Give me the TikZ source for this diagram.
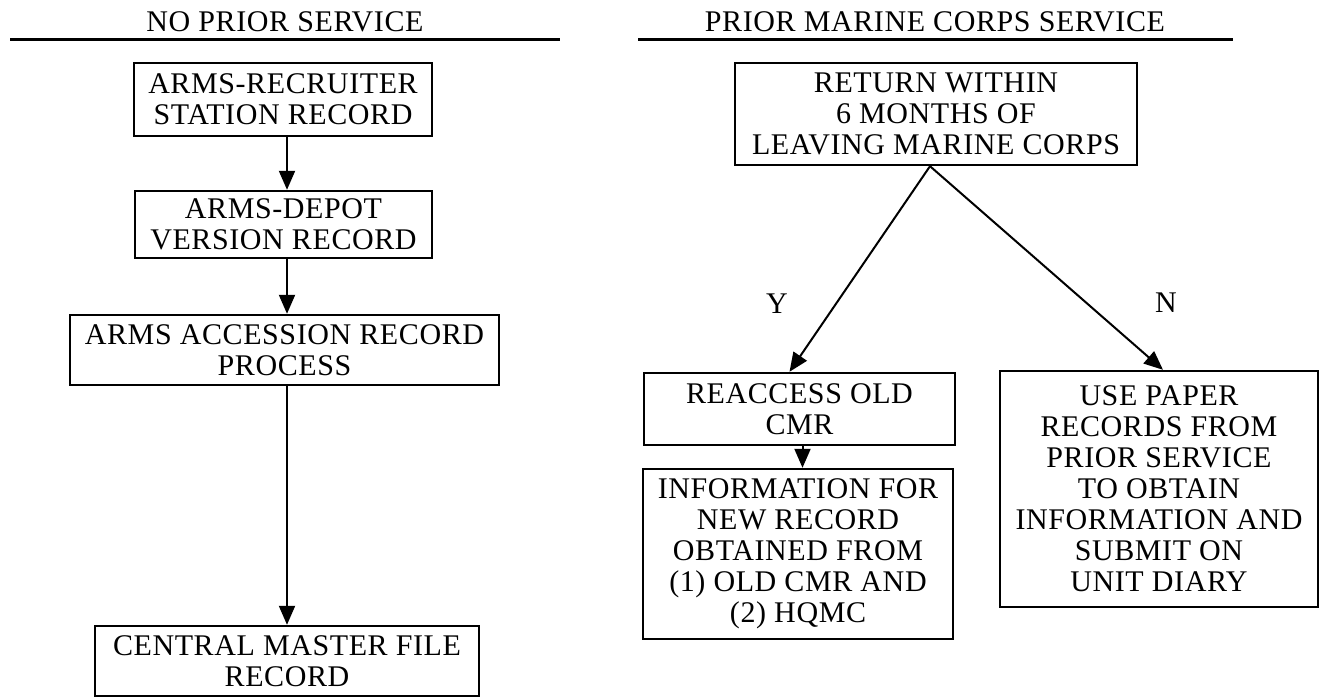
\documentclass[tikz,border=0pt]{standalone}
\usepackage{fontspec}
\setmainfont{Liberation Serif}[LetterSpace=2]
\usetikzlibrary{arrows.meta,calc}
\tikzset{
  box/.style={draw=black, line width=2.4pt, inner sep=0pt, align=center,
    font=\fontsize{30}{31}\selectfont},
  arr/.style={line width=2pt, -{Triangle[length=19pt,width=16pt]}},
  head/.style={anchor=base, inner sep=0pt, font=\fontsize{30}{31}\selectfont},
  lbl/.style={inner sep=0pt, font=\fontsize{30}{31}\selectfont},
  rule/.style={line width=3pt}
}
\begin{document}
\begin{tikzpicture}[x=1pt,y=-1pt]
\useasboundingbox (0,0) rectangle (1322,698);
% headers
\node[head] (h1) at (285,32) {NO PRIOR SERVICE};
\node[head] (h2) at (935,32) {PRIOR MARINE CORPS SERVICE};
\draw[rule] (10,40) -- (560,40);
\draw[rule] (638,40) -- (1233,40);
% left column
\node[box, minimum width=298pt, minimum height=73pt] (b1) at (283,99.5) {ARMS-RECRUITER\\STATION RECORD};
\node[box, minimum width=297pt, minimum height=67pt] (b2) at (283.5,224.5) {ARMS-DEPOT\\VERSION RECORD};
\node[box, minimum width=429pt, minimum height=70pt] (b3) at (284.5,350) {ARMS ACCESSION RECORD\\PROCESS};
\node[box, minimum width=384pt, minimum height=70pt] (b4) at (287,661) {CENTRAL MASTER FILE\\RECORD};
\draw[arr] (b1.south -| b4.north) -- (b2.north -| b4.north);
\draw[arr] (b2.south -| b4.north) -- (b3.north -| b4.north);
\draw[arr] (b3.south -| b4.north) -- (b4.north);
% right column
\node[box, minimum width=402pt, minimum height=102pt] (r1) at (936,114) {RETURN WITHIN\\6 MONTHS OF\\LEAVING MARINE CORPS};
\node[box, minimum width=311pt, minimum height=72pt] (ra) at (799.5,409) {REACCESS OLD\\CMR};
\node[box, minimum width=310pt, minimum height=170pt] (inf) at (798,554) {INFORMATION FOR\\NEW RECORD\\OBTAINED FROM\\(1) OLD CMR AND\\(2) HQMC};
\node[box, minimum width=318pt, minimum height=236pt] (nb) at (1159,489) {USE PAPER\\RECORDS FROM\\PRIOR SERVICE\\TO OBTAIN\\INFORMATION AND\\SUBMIT ON\\UNIT DIARY};
\coordinate (apex) at ($(r1.south)+(-6,0)$);
\draw[arr] (apex) -- ($(ra.north)+(-10,0)$);
\draw[arr] (apex) -- ($(nb.north)+(4,0)$);
\draw[arr] ($(ra.south)+(3,0)$) -- ($(inf.north)+(4.5,0)$);
\node[lbl] (ylbl) at (777,304) {Y};
\node[lbl] (nlbl) at (1166,303) {N};
\end{tikzpicture}
\end{document}
